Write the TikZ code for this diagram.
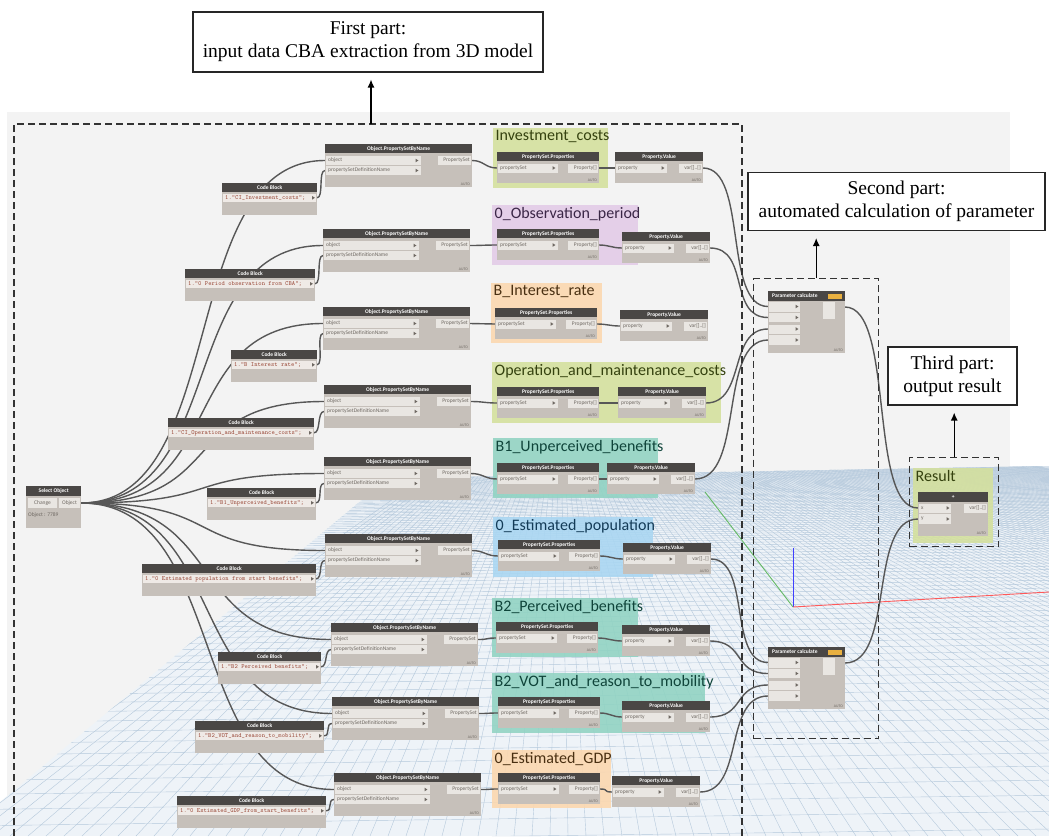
\documentclass[tikz,border=0pt]{standalone}
\usepackage{fontspec}
\newfontfamily\grpfont{Carlito}
\newfontfamily\labfont{Liberation Serif}
\usepackage{tikz}
\usetikzlibrary{arrows.meta,positioning}

\pgfdeclarelayer{bg}
\pgfdeclarelayer{wires}
\pgfsetlayers{bg,wires,main}

\definecolor{canvas}{HTML}{F3F3F3}
\definecolor{gridfill}{HTML}{EEF3F8}
\definecolor{gridline}{HTML}{B4C8DB}
\definecolor{nodehead}{HTML}{4A4745}
\definecolor{nodebody}{HTML}{C6C0BA}
\definecolor{portfill}{HTML}{E9E6E2}
\definecolor{codefill}{HTML}{EFEAE6}
\definecolor{porttext}{HTML}{6E6862}
\definecolor{codetext}{HTML}{9B4B3B}
\definecolor{wirecol}{HTML}{575757}
\definecolor{tagcol}{HTML}{E9B040}
\definecolor{grplime}{HTML}{D4E09C}
\definecolor{grppurple}{HTML}{E3CBE7}
\definecolor{grporange}{HTML}{FCD7AE}
\definecolor{grpteal}{HTML}{90D3C2}
\definecolor{grpblue}{HTML}{A9D6F2}
\definecolor{txtlime}{HTML}{35420F}
\definecolor{txtpurple}{HTML}{3A2646}
\definecolor{txtorange}{HTML}{4A3012}
\definecolor{txtteal}{HTML}{0F443A}
\definecolor{txtblue}{HTML}{133B57}

\tikzset{%
	dynbody/.style  = {rectangle, fill=nodebody, inner sep=0pt, anchor=north west},
	dynhead/.style  = {rectangle, fill=nodehead, inner sep=0pt, minimum height=9pt, anchor=north west, text=white, font=\grpfont\fontsize{5.5}{6}\selectfont\bfseries},
	hdrlbl/.style   = {inner sep=0pt, text=white, font=\grpfont\fontsize{5.5}{6}\selectfont\bfseries},
	portlbl/.style  = {inner sep=0pt, text=porttext, font=\grpfont\fontsize{5.5}{6}\selectfont},
	codelbl/.style  = {inner sep=0pt, anchor=west, text=codetext, font=\ttfamily\fontsize{6.3}{7}\selectfont},
	autotag/.style  = {inner sep=0pt, anchor=south east, text=porttext, font=\grpfont\fontsize{3.8}{4}\selectfont},
	group/.style    = {rectangle, inner sep=0pt, anchor=north west, fill opacity=0.88},
	grptitle/.style = {inner sep=0pt, anchor=north west, font=\grpfont\fontsize{16}{18}\selectfont},
	wire/.style     = {draw=wirecol, line width=1.4pt},
	partbox/.style  = {draw=black!85, line width=1.1pt, fill=white, align=center, inner sep=0pt, font=\labfont\fontsize{19.5}{23}\selectfont},
	dashbox/.style  = {draw=black!80, line width=1.4pt, dash pattern=on 7pt off 4pt},
	arrow/.style    = {line width=1.2pt, -{Latex[length=8pt,width=7pt]}},
}

% small port triangle
\newcommand{\DynTri}[2]{\fill[porttext] (#1-1.4,#2-1.8) -- (#1+1.4,#2) -- (#1-1.4,#2+1.8) -- cycle;}

% Code Block: name, x, y, width, code
\newcommand{\DynCB}[5]{%
	\node[dynbody, minimum width=#4pt, minimum height=32pt] (#1) at (#2,#3) {};
	\node[dynhead, minimum width=#4pt] (#1-h) at (#2,#3) {Code Block};
	\fill[codefill] (#2+1,#3+10.5) rectangle (#2+#4-1,#3+19);
	\node[codelbl] (#1-c) at (#2+3,#3+14.8) {#5};
	\DynTri{#2+#4-3.5}{#3+14.8}
	\coordinate (#1-o) at (#2+#4,#3+14.8);
}

% Object.PropertySetByName: name, x, y
\newcommand{\DynOP}[3]{%
	\node[dynbody, minimum width=147pt, minimum height=43pt] (#1) at (#2,#3) {};
	\node[dynhead, minimum width=147pt] (#1-h) at (#2,#3) {Object.PropertySetByName};
	\fill[portfill] (#2+1,#3+12) rectangle (#2+96,#3+21);
	\fill[portfill] (#2+1,#3+22) rectangle (#2+96,#3+31);
	\fill[portfill] (#2+113,#3+12) rectangle (#2+146,#3+21);
	\node[portlbl, anchor=west] (#1-a) at (#2+3,#3+16.5) {object};
	\node[portlbl, anchor=west] (#1-b) at (#2+3,#3+26.5) {propertySetDefinitionName};
	\node[portlbl, anchor=east] (#1-c) at (#2+145,#3+16.5) {PropertySet};
	\node[autotag] (#1-d) at (#2+145,#3+42) {AUTO};
	\DynTri{#2+92}{#3+16.5}
	\DynTri{#2+92}{#3+26.5}
	\coordinate (#1-i1) at (#2,#3+16.5);
	\coordinate (#1-i2) at (#2,#3+26.5);
	\coordinate (#1-o) at (#2+147,#3+16.5);
}

% PropertySet.Properties: name, x, y
\newcommand{\DynPS}[3]{%
	\node[dynbody, minimum width=102pt, minimum height=31pt] (#1) at (#2,#3) {};
	\node[dynhead, minimum width=102pt] (#1-h) at (#2,#3) {PropertySet.Properties};
	\fill[portfill] (#2+1,#3+11.5) rectangle (#2+61,#3+20.5);
	\fill[portfill] (#2+71,#3+11.5) rectangle (#2+101,#3+20.5);
	\node[portlbl, anchor=west] (#1-a) at (#2+3,#3+16) {propertySet};
	\node[portlbl, anchor=east] (#1-c) at (#2+100,#3+16) {Property[]};
	\node[autotag] (#1-d) at (#2+100,#3+30) {AUTO};
	\DynTri{#2+57}{#3+16}
	\coordinate (#1-i1) at (#2,#3+16);
	\coordinate (#1-o) at (#2+102,#3+16);
}

% Property.Value: name, x, y
\newcommand{\DynPV}[3]{%
	\node[dynbody, minimum width=88pt, minimum height=31pt] (#1) at (#2,#3) {};
	\node[dynhead, minimum width=88pt] (#1-h) at (#2,#3) {Property.Value};
	\fill[portfill] (#2+1,#3+11.5) rectangle (#2+52,#3+20.5);
	\fill[portfill] (#2+64,#3+11.5) rectangle (#2+87,#3+20.5);
	\node[portlbl, anchor=west] (#1-a) at (#2+3,#3+16) {property};
	\node[portlbl, anchor=east] (#1-c) at (#2+86,#3+16) {var[]..[]};
	\node[autotag] (#1-d) at (#2+86,#3+30) {AUTO};
	\DynTri{#2+48}{#3+16}
	\coordinate (#1-i1) at (#2,#3+16);
	\coordinate (#1-o) at (#2+88,#3+16);
}

% Parameter calculate: name, x, y
\newcommand{\DynPC}[3]{%
	\node[dynbody, minimum width=77pt, minimum height=62pt] (#1) at (#2,#3) {};
	\node[dynhead, minimum width=77pt, minimum height=10pt] (#1-h) at (#2,#3) {};
	\node[hdrlbl, anchor=west] (#1-t) at (#2+4,#3+5) {Parameter calculate};
	\fill[tagcol] (#2+60,#3+2.5) rectangle (#2+74,#3+7.5);
	\fill[portfill] (#2+1,#3+11) rectangle (#2+32,#3+31);
	\fill[portfill] (#2+1,#3+33.5) rectangle (#2+32,#3+53.5);
	\draw[nodebody, line width=0.6pt] (#2+1,#3+21) -- (#2+32,#3+21) (#2+1,#3+43.5) -- (#2+32,#3+43.5);
	\fill[portfill] (#2+55,#3+11) rectangle (#2+67,#3+28);
	\node[autotag] (#1-d) at (#2+75,#3+61) {AUTO};
	\DynTri{#2+29}{#3+15.5}
	\DynTri{#2+29}{#3+26.5}
	\DynTri{#2+29}{#3+38}
	\DynTri{#2+29}{#3+49}
	\coordinate (#1-i1) at (#2,#3+15.5);
	\coordinate (#1-i2) at (#2,#3+26.5);
	\coordinate (#1-i3) at (#2,#3+38);
	\coordinate (#1-i4) at (#2,#3+49);
	\coordinate (#1-o) at (#2+77,#3+16);
}

% Group: name, x, y, width, height, fill, text colour, title
\newcommand{\DynGroup}[8]{%
	\node[group, fill=#6, minimum width=#4pt, minimum height=#5pt] (#1) at (#2,#3) {};
	\node[grptitle, text=#7] (#1-t) at (#2+2.5,#3+2) {#8};
}

\begin{document}
\begin{tikzpicture}[x=1pt,y=-1pt]
	\useasboundingbox (0,0) rectangle (1049,836);

	% canvas, floor grid and groups
	\begin{pgfonlayer}{bg}
		\fill[white] (0,0) rectangle (1049,836);
		\fill[canvas] (7,112) rectangle (1010,836);
		\begin{scope}
			\clip (388,478) -- (1049,466) -- (1049,836) -- (0,836) -- (0,802) -- cycle;
			\fill[gridfill] (0,400) rectangle (1049,836);
			\foreach \k in {0,...,175}
				\draw[gridline, line width=0.4pt] (560,380) -- (-80+18*\k,836);
			\foreach \j in {0,...,110}
				\draw[gridline, line width=0.4pt] (0,{380+456/(1+0.04*\j)+7}) -- (1049,{380+456/(1+0.04*\j)-7});
		\end{scope}
		\draw[green!55!black!60, line width=0.9pt] (705,492) -- (793,607);
		\draw[blue!75, line width=0.9pt] (793,548) -- (793,607);
		\draw[red!65, line width=0.9pt] (793,607) -- (1049,592);

		\DynGroup{gInv}{493}{128}{115}{60}{grplime}{txtlime}{Investment\_costs}
		\DynGroup{gObs}{492}{205}{146}{60}{grppurple}{txtpurple}{0\_Observation\_period}
		\DynGroup{gInt}{491}{283}{111}{60}{grporange}{txtorange}{B\_Interest\_rate}
		\DynGroup{gOpe}{492}{362}{229}{61}{grplime}{txtlime}{Operation\_and\_maintenance\_costs}
		\DynGroup{gUnp}{493}{438}{165}{60}{grpteal}{txtteal}{B1\_Unperceived\_benefits}
		\DynGroup{gPop}{493}{517}{160}{60}{grpblue}{txtblue}{0\_Estimated\_population}
		\DynGroup{gPer}{492}{598}{146}{59}{grpteal}{txtteal}{B2\_Perceived\_benefits}
		\DynGroup{gVot}{492}{673}{213}{60}{grpteal}{txtteal}{B2\_VOT\_and\_reason\_to\_mobility}
		\DynGroup{gGdp}{492}{750}{119}{58}{grporange}{txtorange}{0\_Estimated\_GDP}
		\DynGroup{gRes}{913}{468}{80}{75}{grplime}{txtlime}{Result}
	\end{pgfonlayer}

	% Select Object
	\node[dynbody, minimum width=55pt, minimum height=42pt] (sel) at (26,486) {};
	\node[dynhead, minimum width=55pt, minimum height=10pt] (sel-h) at (26,486) {Select Object};
	\fill[portfill] (28,498) rectangle (57,508);
	\fill[portfill] (59,498) rectangle (80,508);
	\node[portlbl] (sel-b) at (42.5,503) {Change};
	\node[portlbl] (sel-c) at (69.5,503) {Object};
	\node[portlbl, anchor=west] (sel-d) at (28,515) {Object : 7789};
	\coordinate (sel-o) at (81,503);

	% code blocks
	\DynCB{cbInv}{222}{183}{95}{1."CI\_Investment\_costs";}
	\DynCB{cbObs}{185}{269}{130}{1."0 Period observation from CBA";}
	\DynCB{cbInt}{231}{350}{86}{1."B Interest rate";}
	\DynCB{cbOpe}{168}{418}{146}{1."CI\_Operation\_and\_maintenance\_costs";}
	\DynCB{cbUnp}{207}{488}{109}{1."B1\_Unperceived\_benefits";}
	\DynCB{cbPop}{142}{564}{174}{1."0 Estimated population from start benefits";}
	\DynCB{cbPer}{218}{652}{103}{1."B2 Perceived benefits";}
	\DynCB{cbVot}{195}{721}{129}{1."B2\_VOT\_and\_reason\_to\_mobility";}
	\DynCB{cbGdp}{177}{796}{149}{1."0 Estimated\_GDP\_from\_start\_benefits";}

	% Object.PropertySetByName
	\DynOP{opInv}{325}{144}
	\DynOP{opObs}{323}{229}
	\DynOP{opInt}{323}{307}
	\DynOP{opOpe}{324}{385}
	\DynOP{opUnp}{324}{457}
	\DynOP{opPop}{325}{534}
	\DynOP{opPer}{331}{623}
	\DynOP{opVot}{332}{697}
	\DynOP{opGdp}{334}{773}

	% PropertySet.Properties
	\DynPS{psInv}{497}{152}
	\DynPS{psObs}{497}{229}
	\DynPS{psInt}{495}{308}
	\DynPS{psOpe}{497}{387}
	\DynPS{psUnp}{497}{463}
	\DynPS{psPop}{498}{540}
	\DynPS{psPer}{496}{622}
	\DynPS{psVot}{498}{697}
	\DynPS{psGdp}{498}{773}

	% Property.Value
	\DynPV{pvInv}{615}{152}
	\DynPV{pvObs}{622}{232}
	\DynPV{pvInt}{620}{310}
	\DynPV{pvOpe}{618}{387}
	\DynPV{pvUnp}{607}{463}
	\DynPV{pvPop}{623}{543}
	\DynPV{pvPer}{622}{625}
	\DynPV{pvVot}{622}{701}
	\DynPV{pvGdp}{612}{776}

	% Parameter calculate
	\DynPC{pcA}{768}{291}
	\DynPC{pcB}{768}{647}

	% Result
	\node[dynbody, minimum width=70pt, minimum height=44pt] (res) at (918,492) {};
	\node[dynhead, minimum width=70pt, minimum height=10pt] (res-h) at (918,492) {+};
	\fill[portfill] (919,503.5) rectangle (951,524);
	\draw[nodebody, line width=0.6pt] (919,513.5) -- (951,513.5);
	\fill[portfill] (964,503.5) rectangle (987,512.5);
	\node[portlbl, anchor=west] (res-a) at (921,508) {x};
	\node[portlbl, anchor=west] (res-b) at (921,519) {y};
	\node[portlbl, anchor=east] (res-c) at (986,508) {var[]..[]};
	\node[autotag] (res-d) at (986,535) {AUTO};
	\DynTri{948}{508}
	\DynTri{948}{519}
	\coordinate (res-i1) at (918,508);
	\coordinate (res-i2) at (918,519);

	% connectors
	\begin{pgfonlayer}{wires}
		\draw[wire] (sel-o) .. controls +(150,0) and +(-150,0) .. (opInv-i1);
		\draw[wire] (sel-o) .. controls +(150,0) and +(-150,0) .. (opObs-i1);
		\draw[wire] (sel-o) .. controls +(150,0) and +(-150,0) .. (opInt-i1);
		\draw[wire] (sel-o) .. controls +(150,0) and +(-150,0) .. (opOpe-i1);
		\draw[wire] (sel-o) .. controls +(150,0) and +(-150,0) .. (opUnp-i1);
		\draw[wire] (sel-o) .. controls +(150,0) and +(-150,0) .. (opPop-i1);
		\draw[wire] (sel-o) .. controls +(150,0) and +(-150,0) .. (opPer-i1);
		\draw[wire] (sel-o) .. controls +(150,0) and +(-150,0) .. (opVot-i1);
		\draw[wire] (sel-o) .. controls +(150,0) and +(-150,0) .. (opGdp-i1);

		\draw[wire] (cbInv-o) .. controls +(7,0) and +(-7,0) .. (opInv-i2);
		\draw[wire] (cbObs-o) .. controls +(7,0) and +(-7,0) .. (opObs-i2);
		\draw[wire] (cbInt-o) .. controls +(7,0) and +(-7,0) .. (opInt-i2);
		\draw[wire] (cbOpe-o) .. controls +(7,0) and +(-7,0) .. (opOpe-i2);
		\draw[wire] (cbUnp-o) .. controls +(7,0) and +(-7,0) .. (opUnp-i2);
		\draw[wire] (cbPop-o) .. controls +(7,0) and +(-7,0) .. (opPop-i2);
		\draw[wire] (cbPer-o) .. controls +(7,0) and +(-7,0) .. (opPer-i2);
		\draw[wire] (cbVot-o) .. controls +(7,0) and +(-7,0) .. (opVot-i2);
		\draw[wire] (cbGdp-o) .. controls +(7,0) and +(-7,0) .. (opGdp-i2);

		\draw[wire] (opInv-o) .. controls +(12,0) and +(-12,0) .. (psInv-i1);
		\draw[wire] (opObs-o) .. controls +(12,0) and +(-12,0) .. (psObs-i1);
		\draw[wire] (opInt-o) .. controls +(12,0) and +(-12,0) .. (psInt-i1);
		\draw[wire] (opOpe-o) .. controls +(12,0) and +(-12,0) .. (psOpe-i1);
		\draw[wire] (opUnp-o) .. controls +(12,0) and +(-12,0) .. (psUnp-i1);
		\draw[wire] (opPop-o) .. controls +(12,0) and +(-12,0) .. (psPop-i1);
		\draw[wire] (opPer-o) .. controls +(12,0) and +(-12,0) .. (psPer-i1);
		\draw[wire] (opVot-o) .. controls +(12,0) and +(-12,0) .. (psVot-i1);
		\draw[wire] (opGdp-o) .. controls +(12,0) and +(-12,0) .. (psGdp-i1);

		\draw[wire] (psInv-o) .. controls +(10,0) and +(-10,0) .. (pvInv-i1);
		\draw[wire] (psObs-o) .. controls +(10,0) and +(-10,0) .. (pvObs-i1);
		\draw[wire] (psInt-o) .. controls +(10,0) and +(-10,0) .. (pvInt-i1);
		\draw[wire] (psOpe-o) .. controls +(10,0) and +(-10,0) .. (pvOpe-i1);
		\draw[wire] (psUnp-o) .. controls +(10,0) and +(-10,0) .. (pvUnp-i1);
		\draw[wire] (psPop-o) .. controls +(10,0) and +(-10,0) .. (pvPop-i1);
		\draw[wire] (psPer-o) .. controls +(10,0) and +(-10,0) .. (pvPer-i1);
		\draw[wire] (psVot-o) .. controls +(10,0) and +(-10,0) .. (pvVot-i1);
		\draw[wire] (psGdp-o) .. controls +(10,0) and +(-10,0) .. (pvGdp-i1);

		\draw[wire] (pvInv-o) .. controls +(45,0) and +(-45,0) .. (pcA-i1);
		\draw[wire] (pvObs-o) .. controls +(40,0) and +(-40,0) .. (pcA-i2);
		\draw[wire] (pvOpe-o) .. controls +(40,0) and +(-40,0) .. (pcA-i3);
		\draw[wire] (pvUnp-o) .. controls +(50,0) and +(-50,0) .. (pcA-i4);
		\draw[wire] (pvPop-o) .. controls +(40,0) and +(-40,0) .. (pcB-i1);
		\draw[wire] (pvPer-o) .. controls +(35,0) and +(-35,0) .. (pcB-i2);
		\draw[wire] (pvVot-o) .. controls +(35,0) and +(-35,0) .. (pcB-i3);
		\draw[wire] (pvGdp-o) .. controls +(45,0) and +(-45,0) .. (pcB-i4);

		\draw[wire] (pcA-o) .. controls +(50,0) and +(-50,0) .. (res-i1);
		\draw[wire] (pcB-o) .. controls +(50,0) and +(-50,0) .. (res-i2);
	\end{pgfonlayer}

	% parts
	\draw[dashbox] (14,836) -- (14,124) -- (742,124) -- (742,836);
	\coordinate (part1) at (371,124);
	\node[dashbox, rectangle, anchor=north west, minimum width=125pt, minimum height=460pt] (part2) at (753,278) {};
	\node[dashbox, rectangle, anchor=north west, minimum width=89pt, minimum height=89pt] (part3) at (909,457) {};

	\node[partbox, minimum width=350pt, minimum height=60pt] (lab1) at (368,42) {First part:\\input data CBA extraction from 3D model};
	\node[partbox, minimum width=297pt, minimum height=58pt] (lab2) at (896.5,201.5) {Second part:\\automated calculation of parameter};
	\node[partbox, minimum width=129pt, minimum height=58pt] (lab3) at (952.5,376) {Third part:\\output result};

	\draw[arrow, shorten >=7pt] (part1) -- (part1 |- lab1.south);
	\draw[arrow, shorten >=7pt] (part2.north) -- (part2.north |- lab2.south);
	\draw[arrow, shorten >=7pt] (part3.north) -- (part3.north |- lab3.south);
\end{tikzpicture}
\end{document}
